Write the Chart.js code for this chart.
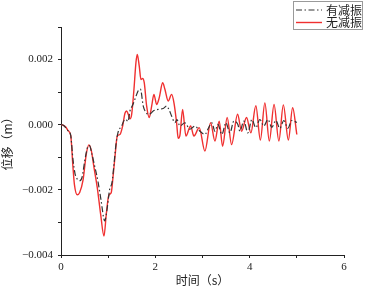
<!DOCTYPE html>
<html>
<head>
<meta charset="utf-8">
<script src="https://cdn.jsdelivr.net/npm/chart.js@4"></script>
<style>
  html, body { margin: 0; padding: 0; background: #fff; }
  #wrap { width: 365px; height: 290px; }
</style>
</head>
<body>
<div id="wrap"><canvas id="dispChart" width="365" height="290"></canvas></div>
<script>
// series names
const seriesNames = ["有减振", "无减振"];

// 有减振 (with damping): time (s) / displacement (m)
const dampedTime = [0.000, 0.042, 0.148, 0.206, 0.254, 0.297, 0.345, 0.396, 0.445, 0.508, 0.561, 0.604, 0.657, 0.720, 0.784, 0.847, 0.926, 0.975, 1.032, 1.081, 1.123, 1.165, 1.208, 1.286, 1.335, 1.377, 1.420, 1.462, 1.525, 1.589, 1.642, 1.684, 1.744, 1.801, 1.850, 1.907, 1.956, 2.061, 2.167, 2.239, 2.288, 2.345, 2.415, 2.458, 2.521, 2.627, 2.733, 2.839, 2.945, 3.051, 3.114, 3.199, 3.263, 3.326, 3.411, 3.496, 3.581, 3.665, 3.750, 3.792, 3.877, 3.962, 4.047, 4.131, 4.216, 4.301, 4.386, 4.470, 4.555, 4.640, 4.725, 4.809, 4.894, 5.000];
const dampedDisp = [0, -0.00001, -0.00018, -0.00033, -0.00107, -0.00150, -0.00167, -0.00172, -0.00162, -0.00107, -0.00070, -0.00064, -0.00091, -0.00131, -0.00174, -0.00230, -0.00295, -0.00261, -0.00198, -0.00178, -0.00122, -0.00061, -0.00024, -0.00004, 0.00013, 0.00016, 0.00010, 0.00042, 0.00062, 0.00087, 0.00106, 0.00109, 0.00057, 0.00038, 0.00032, 0.00035, 0.00042, 0.00047, 0.00050, 0.00057, 0.00047, 0.00027, 0.00006, 0.00016, -0.00004, 0.00006, -0.00014, -0.00004, -0.00020, -0.00030, -0.00014, 0.00006, -0.00020, 0.00001, -0.00030, 0.00006, -0.00025, 0.00011, 0.00001, -0.00020, 0.00011, -0.00025, 0.00016, -0.00009, 0.00016, -0.00004, 0.00016, -0.00008, 0.00013, -0.00011, 0.00013, -0.00011, 0.00013, 0.00007];

// 无减振 (without damping): time (s) / displacement (m)
const freeTime = [0.000, 0.042, 0.106, 0.148, 0.206, 0.254, 0.284, 0.345, 0.396, 0.466, 0.536, 0.593, 0.642, 0.699, 0.769, 0.841, 0.911, 0.960, 1.011, 1.066, 1.102, 1.150, 1.193, 1.250, 1.307, 1.356, 1.392, 1.426, 1.462, 1.498, 1.547, 1.589, 1.617, 1.659, 1.695, 1.731, 1.765, 1.816, 1.871, 1.922, 1.970, 2.028, 2.083, 2.155, 2.203, 2.273, 2.345, 2.394, 2.451, 2.485, 2.521, 2.578, 2.648, 2.748, 2.818, 2.930, 3.051, 3.172, 3.263, 3.354, 3.426, 3.523, 3.617, 3.744, 3.828, 3.934, 4.025, 4.131, 4.227, 4.322, 4.417, 4.517, 4.619, 4.714, 4.820, 4.911, 5.000];
const freeDisp = [0, -0.00001, -0.00008, -0.00018, -0.00033, -0.00131, -0.00183, -0.00215, -0.00208, -0.00171, -0.00090, -0.00062, -0.00079, -0.00131, -0.00193, -0.00275, -0.00342, -0.00275, -0.00218, -0.00208, -0.00162, -0.00090, -0.00035, -0.00030, -0.00004, 0.00035, 0.00042, 0.00032, 0.00018, 0.00032, 0.00109, 0.00191, 0.00216, 0.00180, 0.00139, 0.00142, 0.00129, 0.00057, 0.00022, 0.00057, 0.00093, 0.00062, 0.00083, 0.00129, 0.00109, 0.00073, 0.00093, 0.00068, 0.00006, -0.00042, -0.00033, 0.00047, -0.00035, -0.00004, -0.00035, -0.00009, -0.00081, 0.00006, -0.00050, 0.00011, -0.00066, 0.00022, -0.00061, 0.00032, -0.00020, 0.00022, -0.00025, 0.00058, -0.00047, 0.00067, -0.00050, 0.00062, -0.00050, 0.00061, -0.00047, 0.00052, -0.00030];

// axis ranges
const xMin = 0, xMax = 6, xStep = 1;
const yMin = -0.004, yMax = 0.003, yStep = 0.001;

const toPoints = (ts, vs) => ts.map((t, i) => ({ x: t, y: vs[i] }));

const tickFont = { family: "'Liberation Serif', serif", size: 11 };
const cjkFont = { family: "'Noto Sans CJK SC', sans-serif", size: 12 };

// legend in a box, top right
const boxLegend = {
    id: 'boxLegend',
    afterDraw(chart) {
        const c = chart.ctx;
        c.save();
        c.strokeStyle = '#9a9a9a';
        c.lineWidth = 1;
        c.strokeRect(293.5, 1.5, 69, 28);
        chart.data.datasets.forEach((ds, i) => {
            const y = 10 + i * 12.5;
            c.strokeStyle = ds.borderColor;
            c.lineWidth = ds.borderWidth;
            c.setLineDash(ds.borderDash || []);
            c.beginPath();
            c.moveTo(296, y);
            c.lineTo(322, y);
            c.stroke();
            c.setLineDash([]);
            c.fillStyle = '#222';
            c.font = "12px 'Noto Sans CJK SC', sans-serif";
            c.textBaseline = 'middle';
            c.fillText(ds.label, 326, y);
        });
        c.restore();
    }
};

const ctx = document.getElementById('dispChart').getContext('2d');
new Chart(ctx, {
    type: 'line',
    data: {
        datasets: [
            {
                label: seriesNames[0],
                data: toPoints(dampedTime, dampedDisp),
                borderColor: '#333333',
                borderWidth: 1.2,
                borderDash: [6, 2.5, 1.5, 2.5],
                pointRadius: 0,
                cubicInterpolationMode: 'monotone',
                fill: false
            },
            {
                label: seriesNames[1],
                data: toPoints(freeTime, freeDisp),
                borderColor: '#f03030',
                borderWidth: 1.4,
                pointRadius: 0,
                cubicInterpolationMode: 'monotone',
                fill: false
            }
        ]
    },
    options: {
        responsive: false,
        animation: false,
        layout: { padding: { left: 0, right: 21, top: 27, bottom: 0 } },
        plugins: {
            legend: { display: false },
            tooltip: { enabled: false }
        },
        scales: {
            x: {
                type: 'linear',
                min: xMin, max: xMax,
                afterFit(scale) { scale.height = 35; },
                border: { display: true, color: '#222', width: 1 },
                grid: { drawOnChartArea: false, tickLength: 3, color: '#222' },
                ticks: {
                    stepSize: xStep, autoSkip: false, maxRotation: 0,
                    padding: 3, color: '#222', font: tickFont,
                    callback: v => (Math.round(v) % 2 === 0 ? String(Math.round(v)) : '')
                },
                title: {
                    display: true, text: '时间（s）', color: '#222', font: cjkFont,
                    padding: { top: 0, bottom: 2 }
                }
            },
            y: {
                type: 'linear',
                min: yMin, max: yMax,
                afterFit(scale) { scale.width = 61; },
                border: { display: true, color: '#222', width: 1 },
                grid: { drawOnChartArea: false, tickLength: 3, color: '#222' },
                ticks: {
                    stepSize: yStep, autoSkip: false,
                    padding: 5, color: '#222', font: tickFont,
                    callback: v => {
                        const k = Math.round(v * 1000);
                        if (k % 2 !== 0) return '';
                        return (k < 0 ? '\u2212' : '') + Math.abs(k / 1000).toFixed(3);
                    }
                },
                title: {
                    display: true, text: '位移（m）', color: '#222', font: cjkFont,
                    padding: { top: 0, bottom: 0 }
                }
            }
        }
    },
    plugins: [boxLegend]
});
</script>
</body>
</html>
